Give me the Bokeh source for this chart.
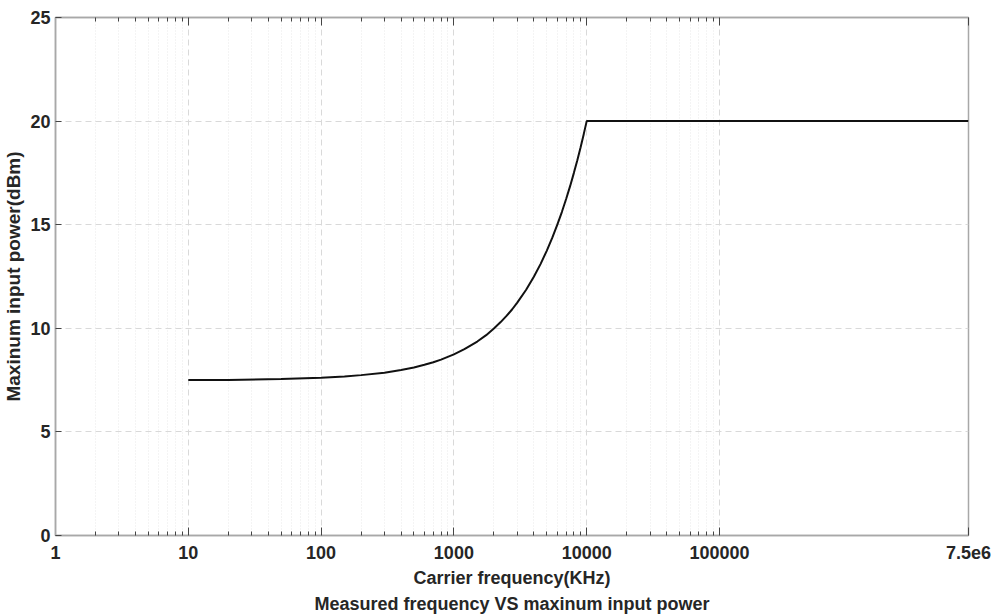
from bokeh.plotting import figure
from bokeh.models import (Range1d, LogAxis, LinearAxis, FixedTicker, Title)
from bokeh.embed import file_html
from bokeh.resources import INLINE

# ---- data ----
freq_khz = [10, 20, 50, 100, 150, 200, 300, 400, 500, 600, 700, 800, 1000,
            1200, 1500, 1750, 2000, 2250, 2500, 2750, 3000, 3500, 4000, 4500,
            5000, 5500, 6000, 6500, 7000, 7500, 8000, 8500, 9000, 9500, 10000,
            7.5e6]
power_dbm = [7.50, 7.51, 7.55, 7.61, 7.67, 7.74, 7.86, 7.99, 8.11, 8.24, 8.36,
             8.49, 8.74, 8.99, 9.36, 9.67, 9.99, 10.30, 10.61, 10.92, 11.24,
             11.86, 12.49, 13.11, 13.74, 14.36, 14.99, 15.61, 16.24, 16.86,
             17.49, 18.11, 18.74, 19.37, 20.00, 20.00]

x_ticks = [1, 10, 100, 1000, 10000, 100000, 7500000]
x_tick_labels = ["1", "10", "100", "1000", "10000", "100000", "7.5e6"]
x_minor = [m * d for d in [1, 10, 100, 1000, 10000] for m in range(2, 10)]
y_ticks = [0, 5, 10, 15, 20, 25]

x_label = "Carrier frequency(KHz)"
y_label = "Maxinum input power(dBm)"
title_text = "Measured frequency VS maxinum input power"

FONT = "Liberation Sans"
TXT = "#262626"
FRAME = "#a8a8a8"
TICK = "#444444"
FS = "18px"

p = figure(width=993, height=616, output_backend="svg", toolbar_location=None,
           x_axis_type="log", x_axis_location=None, y_axis_location=None,
           x_range=Range1d(1, 7.5e6), y_range=Range1d(0, 25),
           min_border_left=55, min_border_right=25, min_border_top=17,
           min_border_bottom=81)
p.background_fill_color = "white"
p.border_fill_color = "white"
p.outline_line_color = FRAME
p.outline_line_width = 1.5

xticker = FixedTicker(ticks=x_ticks, minor_ticks=x_minor)
yticker = FixedTicker(ticks=y_ticks, minor_ticks=[])

xaxis = LogAxis(ticker=xticker, axis_label=x_label)
xaxis.major_label_overrides = {float(t): l for t, l in zip(x_ticks, x_tick_labels)}
xaxis.major_tick_in = 8
xaxis.major_tick_out = 0
xaxis.minor_tick_in = 4
xaxis.minor_tick_out = 0
xaxis.major_tick_line_color = TICK
xaxis.minor_tick_line_color = TICK
xaxis.axis_line_color = FRAME
xaxis.axis_line_width = 1.5
xaxis.major_label_standoff = 10
xaxis.major_label_text_font = FONT
xaxis.major_label_text_font_style = "bold"
xaxis.major_label_text_font_size = FS
xaxis.major_label_text_color = TXT
xaxis.axis_label_text_font = FONT
xaxis.axis_label_text_font_style = "bold"
xaxis.axis_label_text_font_size = FS
xaxis.axis_label_text_color = TXT
xaxis.axis_label_standoff = 6
p.add_layout(xaxis, "below")

topaxis = LogAxis(ticker=xticker)
topaxis.major_label_text_font_size = "1px"
topaxis.major_label_text_alpha = 0
topaxis.major_label_standoff = 0
topaxis.major_tick_in = 8
topaxis.major_tick_out = 0
topaxis.minor_tick_in = 4
topaxis.minor_tick_out = 0
topaxis.major_tick_line_color = TICK
topaxis.minor_tick_line_color = TICK
topaxis.axis_line_color = FRAME
topaxis.axis_line_width = 1.5
p.add_layout(topaxis, "above")

yaxis = LinearAxis(ticker=yticker, axis_label=y_label)
yaxis.major_tick_in = 6
yaxis.major_tick_out = 0
yaxis.minor_tick_in = 0
yaxis.minor_tick_out = 0
yaxis.major_tick_line_color = TICK
yaxis.axis_line_color = FRAME
yaxis.axis_line_width = 1.5
yaxis.major_label_standoff = 5
yaxis.major_label_text_font = FONT
yaxis.major_label_text_font_style = "bold"
yaxis.major_label_text_font_size = FS
yaxis.major_label_text_color = TXT
yaxis.axis_label_text_font = FONT
yaxis.axis_label_text_font_style = "bold"
yaxis.axis_label_text_font_size = "19px"
yaxis.axis_label_text_color = TXT
yaxis.axis_label_standoff = 3
p.add_layout(yaxis, "left")

# grids
p.xgrid.ticker = xticker
p.ygrid.ticker = yticker
p.xgrid.grid_line_color = "#d9d9d9"
p.xgrid.grid_line_dash = "6 4"
p.xgrid.minor_grid_line_color = "#e8e8e8"
p.xgrid.minor_grid_line_dash = "1 2"
p.ygrid.grid_line_color = "#d9d9d9"
p.ygrid.grid_line_dash = "6 4"

p.line(freq_khz, power_dbm, line_color="#111111", line_width=2)

t = Title(text=title_text, align="center", text_font=FONT, text_font_style="bold",
          text_font_size=FS, text_color=TXT, standoff=3, offset=0)
p.add_layout(t, "below")

open("out.html", "w").write(file_html(p, INLINE))
